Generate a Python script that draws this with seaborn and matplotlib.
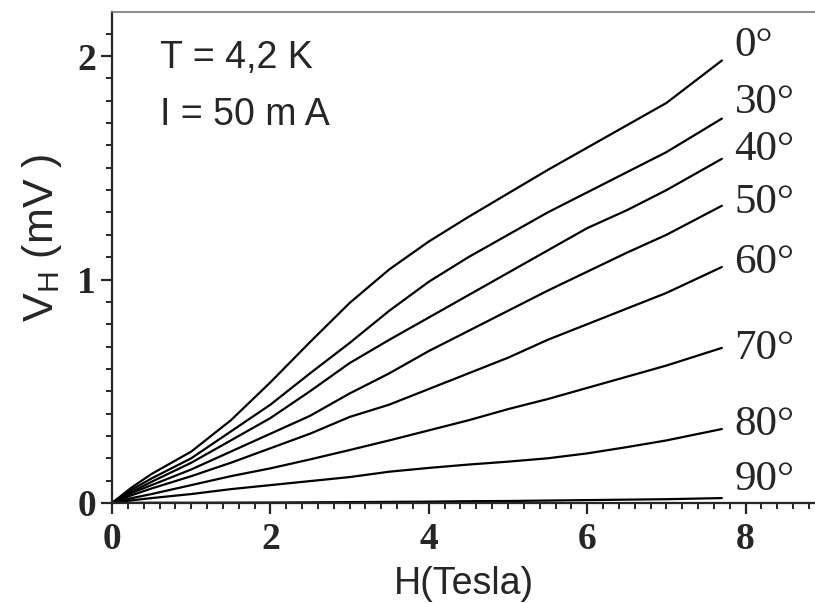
import numpy as np
import pandas as pd
import matplotlib.pyplot as plt
from matplotlib.ticker import MultipleLocator
import seaborn as sns

# field values (Tesla)
field = [0, 0.25, 0.5, 1, 1.5, 2, 2.5, 3, 3.5, 4, 4.5, 5, 5.5, 6, 6.5, 7, 7.7]

# Hall voltage (mV) for each tilt angle
v0 = [0, 0.07, 0.13, 0.23, 0.37, 0.54, 0.72, 0.895, 1.045, 1.17, 1.28, 1.385, 1.49, 1.59, 1.69, 1.79, 1.98]
v30 = [0, 0.06, 0.11, 0.20, 0.32, 0.44, 0.58, 0.716, 0.86, 0.99, 1.10, 1.20, 1.30, 1.39, 1.48, 1.57, 1.72]
v40 = [0, 0.05, 0.095, 0.18, 0.28, 0.38, 0.50, 0.626, 0.73, 0.83, 0.93, 1.03, 1.13, 1.23, 1.31, 1.40, 1.54]
v50 = [0, 0.045, 0.08, 0.15, 0.23, 0.31, 0.39, 0.49, 0.58, 0.68, 0.77, 0.86, 0.95, 1.035, 1.12, 1.20, 1.33]
v60 = [0, 0.035, 0.065, 0.12, 0.18, 0.245, 0.31, 0.385, 0.44, 0.51, 0.58, 0.65, 0.73, 0.80, 0.87, 0.94, 1.056]
v70 = [0, 0.022, 0.04, 0.08, 0.12, 0.155, 0.195, 0.237, 0.28, 0.325, 0.37, 0.42, 0.465, 0.515, 0.565, 0.615, 0.694]
v80 = [0, 0.012, 0.022, 0.04, 0.062, 0.08, 0.098, 0.116, 0.14, 0.157, 0.172, 0.185, 0.20, 0.222, 0.25, 0.28, 0.331]
v90 = [0, 0.0005, 0.001, 0.001, 0.0015, 0.002, 0.003, 0.004, 0.005, 0.006, 0.008, 0.009, 0.011, 0.013, 0.015, 0.017, 0.022]

angles = ['0°', '30°', '40°', '50°', '60°', '70°', '80°', '90°']
series = [v0, v30, v40, v50, v60, v70, v80, v90]
# where the angle labels sit (y in mV)
label_y = [2.045, 1.79, 1.58, 1.345, 1.077, 0.69, 0.35, 0.105]

df = pd.concat([pd.DataFrame({'H': field, 'V': s, 'angle': a})
                for a, s in zip(angles, series)], ignore_index=True)

sns.set_style('ticks')
plt.rcParams['mathtext.fontset'] = 'custom'
plt.rcParams['mathtext.rm'] = 'Liberation Sans'

fig = plt.figure(figsize=(8.15, 6.03), dpi=100)
ax = fig.add_axes([112 / 815, 100 / 603, 703 / 815, 491 / 603])

sns.lineplot(data=df, x='H', y='V', hue='angle', palette=['black'] * len(angles),
             linewidth=1.6, legend=False, ax=ax)

for a, y in zip(angles, label_y):
    ax.text(7.86, y, a, fontsize=31, family='Liberation Serif', va='center', ha='left')

ax.text(0.6, 1.99, 'T = 4,2 K', fontsize=27, family='Liberation Sans', va='center')
ax.text(0.6, 1.735, 'I = 50 m A', fontsize=27, family='Liberation Sans', va='center')

ax.set_xlim(0, 8.876)
ax.set_ylim(0, 2.197)
ax.xaxis.set_major_locator(MultipleLocator(2))
ax.xaxis.set_minor_locator(MultipleLocator(0.2))
ax.yaxis.set_major_locator(MultipleLocator(1))
ax.yaxis.set_minor_locator(MultipleLocator(0.1))
ax.tick_params(which='major', length=8, width=1.6, direction='out')
ax.tick_params(axis='x', which='major', pad=6)
ax.tick_params(which='minor', length=4.5, width=1.4, direction='out')
for lab in ax.get_xticklabels() + ax.get_yticklabels():
    lab.set_family('Liberation Serif')
    lab.set_fontweight('bold')
    lab.set_fontsize(27)

ax.spines['right'].set_visible(False)
ax.spines['top'].set_color('#777777')
ax.spines['top'].set_linewidth(1.2)
ax.spines['left'].set_linewidth(1.6)
ax.spines['bottom'].set_linewidth(1.6)

ax.set_xlabel('H(Tesla)', fontsize=27, family='Liberation Sans', labelpad=6)
ax.set_ylabel(r'V$_{\rm H}$ (mV )', fontsize=31, family='Liberation Sans')
ax.yaxis.set_label_coords(-0.068, 0.54)

fig.savefig('out.png', dpi=100)
